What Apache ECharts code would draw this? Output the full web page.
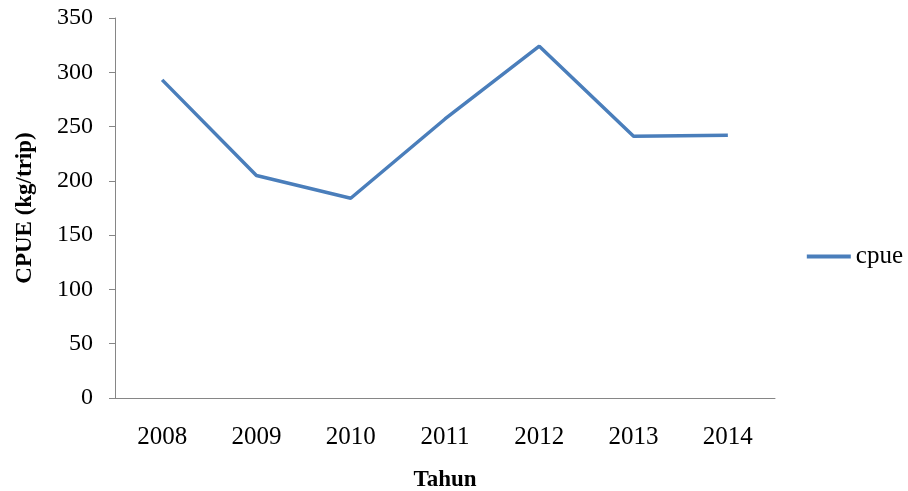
<!DOCTYPE html>
<html>
<head>
<meta charset="utf-8">
<script src="https://cdn.jsdelivr.net/npm/echarts@6/dist/echarts.min.js"></script>
<style>
  html, body { margin: 0; padding: 0; background: #fff; }
  #chart { width: 908px; height: 491px; }
</style>
</head>
<body>
<div id="chart"></div>
<script>
// CPUE per year
const years = ['2008', '2009', '2010', '2011', '2012', '2013', '2014'];
const cpue = [293, 205, 184, 257, 324, 241, 242];
const yTicks = { min: 0, max: 350, interval: 50 };

const serif = '"Liberation Serif", "Times New Roman", serif';
const axisGray = '#868686';
const lineBlue = '#4a7ebb';

const chart = echarts.init(document.getElementById('chart'));
chart.setOption({
  animation: false,
  backgroundColor: '#ffffff',
  grid: { left: 115, right: 133, top: 18, bottom: 93, outerBoundsMode: 'none' },
  legend: {
    data: ['cpue'],
    right: 0,
    top: 239,
    icon: 'rect',
    itemWidth: 44,
    itemHeight: 4,
    textStyle: { fontFamily: serif, fontSize: 25, color: '#000' }
  },
  xAxis: {
    type: 'category',
    data: years,
    boundaryGap: true,
    name: 'Tahun',
    nameLocation: 'middle',
    nameGap: 71,
    nameTextStyle: { fontFamily: serif, fontSize: 23, fontWeight: 'bold', color: '#000' },
    axisLine: { lineStyle: { color: axisGray, width: 1 } },
    axisTick: { show: false },
    axisLabel: { fontFamily: serif, fontSize: 25, color: '#000', margin: 27 }
  },
  yAxis: {
    type: 'value',
    min: yTicks.min,
    max: yTicks.max,
    interval: yTicks.interval,
    name: 'CPUE (kg/trip)',
    nameLocation: 'middle',
    nameGap: 78,
    nameRotate: 90,
    nameTextStyle: { fontFamily: serif, fontSize: 23, fontWeight: 'bold', color: '#000' },
    axisLine: { show: true, lineStyle: { color: axisGray, width: 1 } },
    axisTick: { show: true, length: 6, lineStyle: { color: axisGray } },
    axisLabel: { fontFamily: serif, fontSize: 24, color: '#000', margin: 22 },
    splitLine: { show: false }
  },
  series: [{
    name: 'cpue',
    type: 'line',
    data: cpue,
    symbol: 'none',
    lineStyle: { color: lineBlue, width: 3.5 },
    itemStyle: { color: lineBlue }
  }]
});
</script>
</body>
</html>
